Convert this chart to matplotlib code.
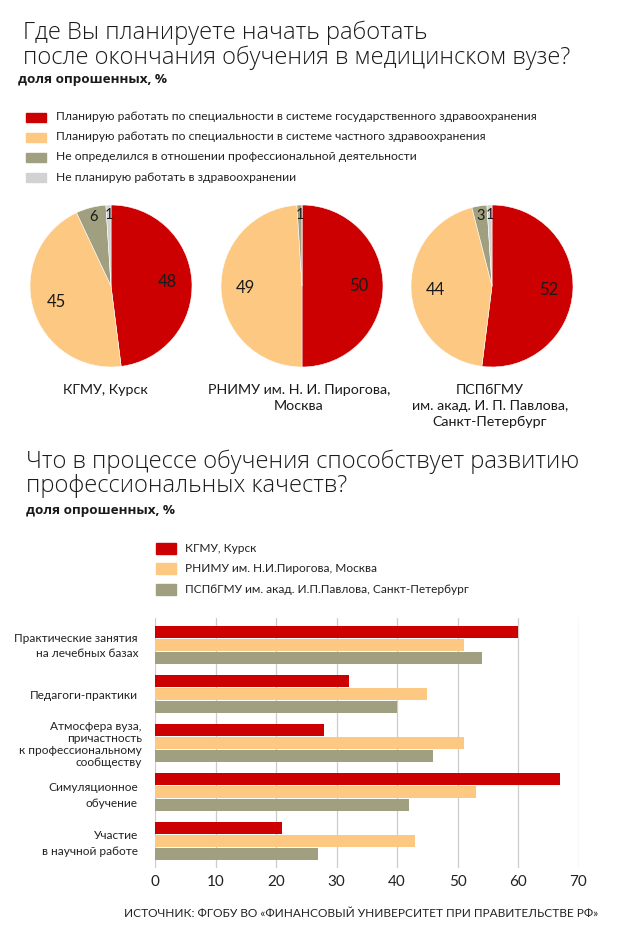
import matplotlib
matplotlib.use("Agg")
import matplotlib.pyplot as plt
import numpy as np
from matplotlib import font_manager
from matplotlib.patches import Rectangle

ttf = font_manager.fontManager.ttflist
names = {f.name for f in ttf}
BASE = "Open Sans" if "Open Sans" in names else "DejaVu Sans"
SMALL = "Lato" if "Lato" in names else BASE
light_faces = [f for f in ttf if f.name == BASE and (isinstance(f.weight, int) and f.weight < 400)]
TITLE_W = 'light' if light_faces else 'normal'
plt.rcParams['font.family'] = [SMALL, 'DejaVu Sans']

# ---------------- data ----------------
pie_cats = ["Планирую работать по специальности в системе государственного здравоохранения",
            "Планирую работать по специальности в системе частного здравоохранения",
            "Не определился в отношении профессиональной деятельности",
            "Не планирую работать в здравоохранении"]
pie_titles = ["КГМУ, Курск",
              "РНИМУ им. Н. И. Пирогова,\nМосква",
              "ПСПбГМУ\nим. акад. И. П. Павлова,\nСанкт-Петербург"]
pie_kgmu = [48, 45, 6, 1]
pie_rnimu = [50, 49, 1, 0]
pie_pspb = [52, 44, 3, 1]
pie_values = [pie_kgmu, pie_rnimu, pie_pspb]

bar_cats = ["Практические занятия\nна лечебных базах",
            "Педагоги-практики",
            "Атмосфера вуза,\nпричастность\nк профессиональному\nсообществу",
            "Симуляционное\nобучение",
            "Участие\nв научной работе"]
bar_series = ["КГМУ, Курск",
              "РНИМУ им. Н.И.Пирогова, Москва",
              "ПСПбГМУ им. акад. И.П.Павлова, Санкт-Петербург"]
bar_kgmu = [60, 32, 28, 67, 21]
bar_rnimu = [51, 45, 51, 53, 43]
bar_pspb = [54, 40, 46, 42, 27]
x_ticks = [0, 10, 20, 30, 40, 50, 60, 70]

RED = "#CC0000"
ORANGE = "#FDC882"
OLIVE = "#A09F80"
LGRAY = "#D2D2D2"
TXT = "#1a1a1a"
pie_colors = [RED, ORANGE, OLIVE, LGRAY]
bar_colors = [RED, ORANGE, OLIVE]

W, H = 626, 942
fig = plt.figure(figsize=(W / 100, H / 100), dpi=100)
renderer = fig.canvas.get_renderer()

def rect(x0, y0, x1, y1):
    return [x0 / W, 1 - y1 / H, (x1 - x0) / W, (y1 - y0) / H]

def fit_size(s, target, weight='normal', family=None, base=10.0):
    fam = [family or SMALL, 'DejaVu Sans']
    t = fig.text(0, 0, s, fontsize=base, weight=weight, family=fam)
    w = t.get_window_extent(renderer).width
    t.remove()
    return base * target / w

def ftext(x, y, s, **kw):
    return fig.text(x / W, 1 - y / H, s, **kw)

TF = [BASE, 'DejaVu Sans']
# font sizes fitted to the widths of the reference's text
fs_title = fit_size("после окончания обучения в медицинском вузе?", 546, TITLE_W, BASE)
fs_sub = fit_size("доля опрошенных, %", 150, 'bold', BASE)
fs_leg = fit_size(pie_cats[0], 484)
fs_pie = fit_size("КГМУ, Курск", 85)
fs_bleg = fit_size(bar_series[2], 283)
fs_cat = fit_size("Практические занятия", 123)
fs_src = fit_size("ИСТОЧНИК: ФГОБУ ВО «ФИНАНСОВЫЙ УНИВЕРСИТЕТ ПРИ ПРАВИТЕЛЬСТВЕ РФ»", 474)

# ---------------- titles ----------------
ftext(23, 39, "Где Вы планируете начать работать", fontsize=fs_title, weight=TITLE_W,
      va='baseline', color=TXT, family=TF)
ftext(23, 64, "после окончания обучения в медицинском вузе?", fontsize=fs_title, weight=TITLE_W,
      va='baseline', color=TXT, family=TF)
ftext(18, 83, "доля опрошенных, %", fontsize=fs_sub, weight='bold', va='baseline', color=TXT,
      family=TF)

# pie legend
for i, (lab, c) in enumerate(zip(pie_cats, pie_colors)):
    yc = 117 + 20 * i
    fig.patches.append(Rectangle((26 / W, 1 - (yc + 4.5) / H), 20 / W, 9 / H,
                                 transform=fig.transFigure, color=c, figure=fig))
    ftext(56, yc, lab, fontsize=fs_leg, va='center', color='#222222')

# ---------------- pies ----------------
pie_cx = [111, 302, 492]
title_cx = [105.5, 299, 490]
for vals, cx, tcx, ttl in zip(pie_values, pie_cx, title_cx, pie_titles):
    ax = fig.add_axes(rect(cx - 82, 286 - 82, cx + 82, 286 + 82))
    ax.pie(vals, colors=pie_colors, startangle=90, counterclock=False,
           wedgeprops=dict(edgecolor='white', linewidth=0.4))
    ax.set_xlim(-82 / 81, 82 / 81)
    ax.set_ylim(-82 / 81, 82 / 81)
    ax.set_aspect('equal')
    ax.axis('off')
    cum = 0
    for v in vals:
        if v > 0:
            mid = (cum + v / 2) / 100 * 2 * np.pi
            big = v >= 10
            d = 0.7 if big else 0.88
            ax.text(d * np.sin(mid), d * np.cos(mid), str(v), ha='center', va='center',
                    fontsize=12 if big else 10.5, color=TXT)
        cum += v
    for j, line in enumerate(ttl.split("\n")):
        ftext(tcx, 394 + 16 * j, line, fontsize=fs_pie, ha='center', va='baseline', color=TXT)

# ---------------- second title ----------------
ftext(26, 468, "Что в процессе обучения способствует развитию", fontsize=fs_title,
      weight=TITLE_W, va='baseline', color=TXT, family=TF)
ftext(26, 492, "профессиональных качеств?", fontsize=fs_title,
      weight=TITLE_W, va='baseline', color=TXT, family=TF)
ftext(26, 514, "доля опрошенных, %", fontsize=fs_sub, weight='bold', va='baseline', color=TXT,
      family=TF)

# bar legend
for i, (lab, c) in enumerate(zip(bar_series, bar_colors)):
    yc = 548.5 + 20.3 * i
    fig.patches.append(Rectangle((156 / W, 1 - (yc + 5.5) / H), 20 / W, 11 / H,
                                 transform=fig.transFigure, color=c, figure=fig))
    ftext(185, yc, lab, fontsize=fs_bleg, va='center', color='#222222')

# ---------------- bars ----------------
bx = fig.add_axes(rect(155, 618, 578.5, 868))
n = len(bar_cats)
y = np.arange(n)
bh = 0.245
for k, (vals, c) in enumerate(zip([bar_kgmu, bar_rnimu, bar_pspb], bar_colors)):
    bx.barh(y + (k - 1) * 0.265, vals, height=bh, color=c, zorder=3)
bx.set_xlim(0, 70)
bx.set_ylim(n - 0.5 + 0.04, -0.5 - 0.04)
bx.set_xticks(x_ticks)
bx.set_xticklabels([str(t) for t in x_ticks], fontsize=11, color='#222222')
bx.xaxis.grid(True, color='#CCCCCC', linewidth=0.9, zorder=0)
bx.set_yticks(y)
bx.set_yticklabels([])
for s in bx.spines.values():
    s.set_visible(False)
bx.tick_params(axis='both', length=0, pad=5)

# category labels: baselines (px) of each line
cat_baselines = [[642, 657], [699], [730, 742, 754, 766], [791, 807], [839, 855]]
cat_right = [138, 138, 142, 138, 138]
for lab, bls, xr in zip(bar_cats, cat_baselines, cat_right):
    for line, bl in zip(lab.split("\n"), bls):
        ftext(xr, bl, line, fontsize=fs_cat, ha='right', va='baseline', color='#222222')

ftext(598, 917, "ИСТОЧНИК: ФГОБУ ВО «ФИНАНСОВЫЙ УНИВЕРСИТЕТ ПРИ ПРАВИТЕЛЬСТВЕ РФ»",
      fontsize=fs_src, ha='right', va='baseline', color='#222222')

fig.savefig("out.png", dpi=100)
